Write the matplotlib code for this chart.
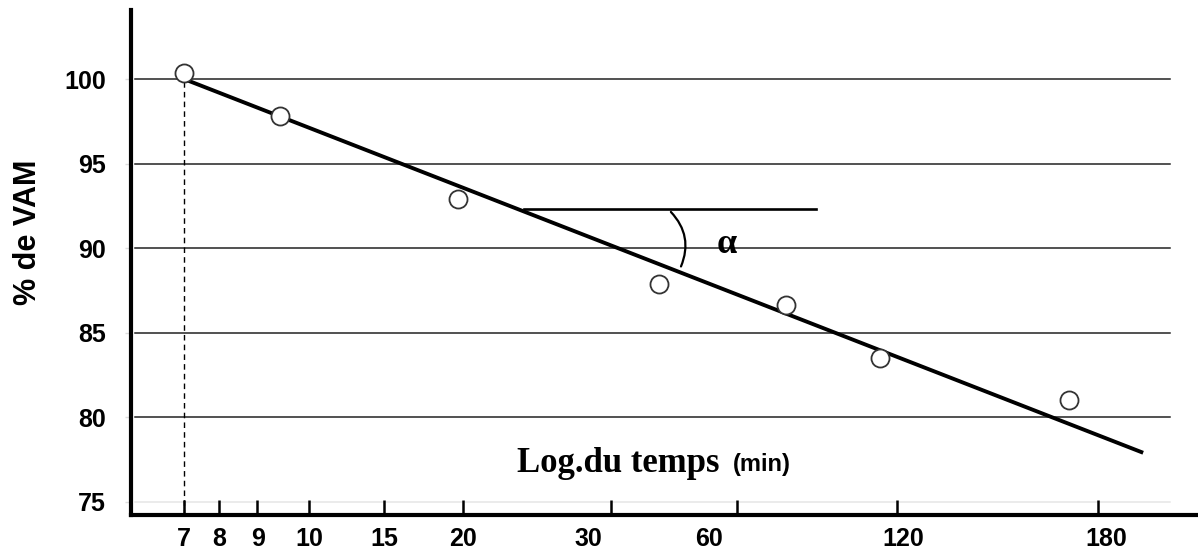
import numpy as np
import matplotlib.pyplot as plt
from matplotlib.scale import FuncScale

# temps (min) et % de VAM
temps = [7, 9.44, 19.7, 41.4, 78.4, 113.6, 171.3]
pct_vam = [100.35, 97.81, 92.91, 87.88, 86.64, 83.51, 81.03]

# droite de regression (extremites)
fit_t = [7, 193]
fit_v = [100.0, 77.95]

x_ticks = [7, 8, 9, 10, 15, 20, 30, 60, 120, 180]
x_labels = ['7', '8', '9', '10', '15', '20', '30', '60', '120', '180']
# les etiquettes ne sont pas toujours centrees sur leur graduation
x_label_at = [7, 8, 9.03, 10.01, 15, 20, 28.5, 53.3, 121.8, 182.4]
y_ticks = [75, 80, 85, 90, 95, 100]

# axe "log" dessine a la main : position de chaque graduation
axis_vals = np.array([5.5, 7, 8, 9, 10, 15, 20, 30, 60, 120, 180, 210])
axis_pos = np.array([131, 184, 219, 257, 309, 384, 463, 611, 737, 897, 1098, 1198], float)


def forward(x):
    return np.interp(x, axis_vals, axis_pos)


def inverse(p):
    return np.interp(p, axis_pos, axis_vals)


plt.rcParams['font.family'] = ['Liberation Sans', 'DejaVu Sans']

fig = plt.figure(figsize=(11.98, 5.52), dpi=100)
ax = fig.add_axes([131 / 1198, 1 - 515 / 552, 1 - 131 / 1198, (515 - 10) / 552])
ax.set_xscale(FuncScale(ax.xaxis, (forward, inverse)))
ax.set_xlim(5.5, 210)
ax.set_ylim(74.23, 104.08)

# lignes horizontales
for v in y_ticks:
    col = '#e6e6e6' if v == 75 else '#222222'
    ax.axhline(v, xmin=0.004, xmax=0.974, color=col, lw=1.1, zorder=1)

ax.vlines(7, 74.23, 100, colors='black', linestyles=(0, (4, 3)), lw=1, zorder=2)
ax.plot(fit_t, fit_v, color='black', lw=2.8, zorder=3)
ax.plot(temps, pct_vam, 'o', ms=13, mfc='white', mec='#333333', mew=1.3, zorder=4)

# angle alpha
ax.plot([24.1, 89.6], [92.32, 92.32], color='black', lw=1.9, zorder=3)
ax.annotate('', xy=(46.4, 88.77), xytext=(43.8, 92.26),
            arrowprops=dict(arrowstyle='-', connectionstyle='arc3,rad=-0.35', lw=1.6, color='black'))
ax.text(57.6, 90.2, 'α', fontsize=26, fontweight='bold', family='Liberation Serif', ha='center', va='center')

for side in ['top', 'right']:
    ax.spines[side].set_visible(False)
ax.spines['left'].set_linewidth(3)
ax.spines['bottom'].set_linewidth(3)

# graduations (majeures, sans texte) et etiquettes (mineures, sans trait)
ax.xaxis.remove_overlapping_locs = False
ax.set_xticks(x_ticks)
ax.set_xticklabels([])
ax.set_xticks(x_label_at, minor=True)
ax.set_xticklabels(x_labels, minor=True)
ax.set_yticks(y_ticks)
ax.tick_params(axis='x', which='major', direction='in', length=11, width=1.8)
ax.tick_params(axis='x', which='minor', length=0, pad=9, labelsize=18)
ax.tick_params(axis='y', direction='out', length=4, width=1, color='#dddddd', pad=14, labelsize=18)
for lab in ax.get_xticklabels(minor=True) + ax.get_yticklabels():
    lab.set_fontweight('bold')

fig.text(28 / 1198, 1 - 232 / 552, '% de VAM', rotation=90, fontsize=22, fontweight='bold',
         ha='center', va='center')
fig.text(517 / 1198, 1 - 463 / 552, 'Log.du temps', fontsize=25, fontweight='bold',
         family='Liberation Serif', ha='left', va='center')
fig.text(733 / 1198, 1 - 465 / 552, '(min)', fontsize=17, fontweight='bold', ha='left', va='center')

fig.savefig('out.png', dpi=100)
